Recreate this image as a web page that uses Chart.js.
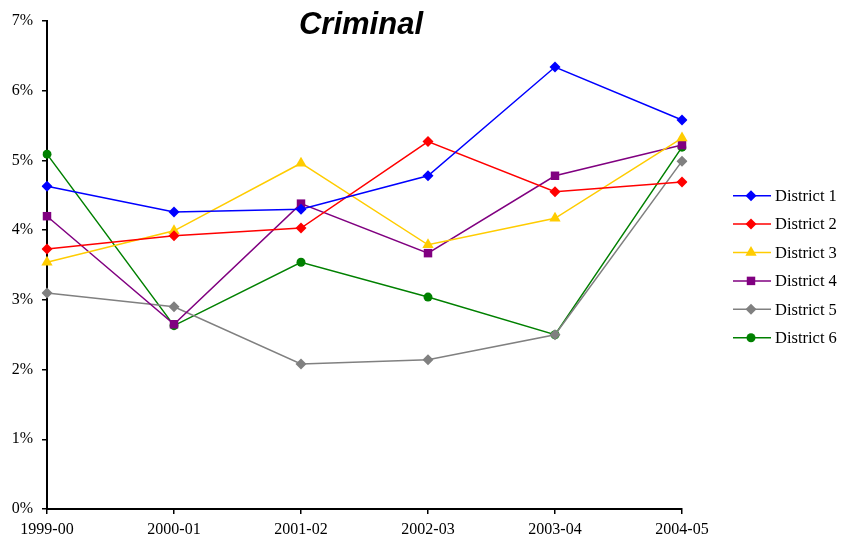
<!DOCTYPE html>
<html><head><meta charset="utf-8">
<script src="https://cdn.jsdelivr.net/npm/chart.js@4/dist/chart.umd.min.js"></script>
<style>html,body{margin:0;padding:0;background:#fff}#wrap{width:843px;height:542px}</style>
</head><body><div id="wrap"><canvas id="c"></canvas></div>
<script>
const categories = ['1999-00','2000-01','2001-02','2002-03','2003-04','2004-05'];
const seriesNames = ['District 1','District 2','District 3','District 4','District 5','District 6'];
const district1 = [4.63, 4.26, 4.30, 4.78, 6.34, 5.58];
const district2 = [3.73, 3.92, 4.03, 5.27, 4.55, 4.69];
const district3 = [3.54, 3.99, 4.96, 3.79, 4.17, 5.32];
const district4 = [4.20, 2.65, 4.38, 3.67, 4.78, 5.22];
const district5 = [3.10, 2.90, 2.08, 2.14, 2.50, 4.99];
const district6 = [5.09, 2.63, 3.54, 3.04, 2.50, 5.19];
const yTicks = [0,1,2,3,4,5,6,7];
const titleText = 'Criminal';

const colors = ['#0000FF','#FF0000','#FFCC00','#800080','#808080','#008000'];
const styles = ['rectRot','rectRot','triangle','rect','rectRot','circle'];
const radii = [5.5,5.5,6.5,6,5.5,4.5];
const values = [district1,district2,district3,district4,district5,district6];

const datasets = seriesNames.map((n,i)=>({
  label:n, data:values[i], borderColor:colors[i], backgroundColor:colors[i],
  pointStyle:styles[i], pointRadius:radii[i], pointBorderWidth:0, borderWidth:1.5,
  tension:0, fill:false
}));

const extras = {
  id:'extras',
  afterDraw(chart){
    const ctx = chart.ctx;
    ctx.save();
    ctx.fillStyle='#000';
    ctx.font='italic bold 31px "Liberation Sans", Arial, sans-serif';
    ctx.textAlign='center'; ctx.textBaseline='middle';
    ctx.fillText(titleText, 361, 25);
    // legend
    ctx.font='16.5px "Liberation Serif", "Times New Roman", serif';
    ctx.textAlign='left';
    chart.data.datasets.forEach((ds,i)=>{
      const y = 195.7 + i*28.4;
      ctx.strokeStyle=ds.borderColor; ctx.lineWidth=1.5;
      ctx.beginPath(); ctx.moveTo(733,y); ctx.lineTo(771,y); ctx.stroke();
      ctx.fillStyle=ds.borderColor;
      Chart.helpers.drawPoint(ctx,{pointStyle:ds.pointStyle,radius:ds.pointRadius,borderWidth:0},751,y);
      ctx.fillStyle='#000';
      ctx.fillText(ds.label, 775, y+1);
    });
    ctx.restore();
  }
};

new Chart(document.getElementById('c'),{
  type:'line',
  data:{labels:categories,datasets},
  plugins:[extras],
  options:{
    responsive:true, maintainAspectRatio:false, animation:false,
    layout:{padding:{left:0,top:21,right:161,bottom:0}},
    plugins:{legend:{display:false},title:{display:false},tooltip:{enabled:false}},
    scales:{
      x:{
        offset:false,
        grid:{drawOnChartArea:false,drawTicks:true,tickLength:5,color:'#000',lineWidth:1.5},
        border:{color:'#000',width:2},
        ticks:{color:'#000',maxRotation:0,font:{family:'"Liberation Serif", serif',size:16},padding:6},
        afterFit(s){s.height=33;}
      },
      y:{
        min:0,max:7,
        afterBuildTicks(s){s.ticks=yTicks.map(v=>({value:v}));},
        grid:{drawOnChartArea:false,drawTicks:true,tickLength:5,color:'#000',lineWidth:1.5},
        border:{color:'#000',width:2},
        ticks:{color:'#000',font:{family:'"Liberation Serif", serif',size:16},padding:9,callback:v=>v+'%'},
        afterFit(s){s.width=47;}
      }
    }
  }
});
</script></body></html>
